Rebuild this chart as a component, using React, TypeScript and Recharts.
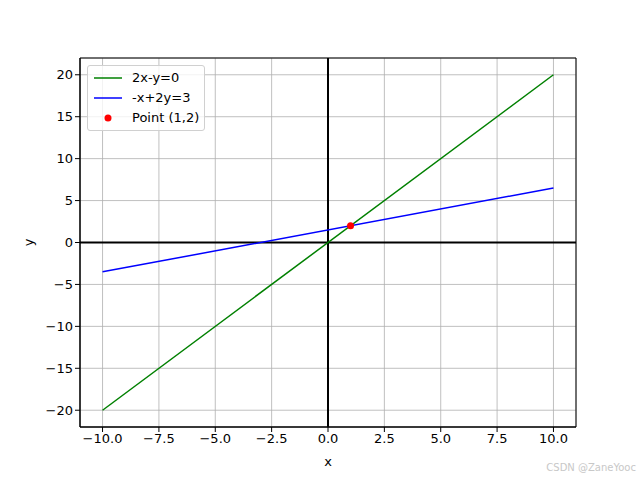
import {
  ComposedChart, Line, Scatter, XAxis, YAxis, CartesianGrid, ReferenceLine,
  ReferenceArea,
} from "recharts";

const X_RANGE = [-10, 10];
const LINE1_Y = [-20, 20]; // 2x - y = 0
const LINE2_Y = [-3.5, 6.5]; // -x + 2y = 3
const POINT = [{ x: 1, y: 2 }];

const X_TICKS = [-10, -7.5, -5, -2.5, 0, 2.5, 5, 7.5, 10];
const Y_TICKS = [-20, -15, -10, -5, 0, 5, 10, 15, 20];

const line1 = X_RANGE.map((x, i) => ({ x, y: LINE1_Y[i] }));
const line2 = X_RANGE.map((x, i) => ({ x, y: LINE2_Y[i] }));

const FONT = "DejaVu Sans, sans-serif";
const minus = (s: string) => s.replace("-", "\u2212");

const legendItems = [
  { label: "2x-y=0", color: "#008000", kind: "line" },
  { label: "-x+2y=3", color: "#0000ff", kind: "line" },
  { label: "Point (1,2)", color: "#ff0000", kind: "dot" },
];

function LegendBox() {
  return (
    <div
      style={{
        position: "absolute",
        left: 87,
        top: 65,
        border: "1px solid #d0d0d0",
        borderRadius: 3,
        background: "rgba(255,255,255,0.8)",
        padding: "2px 5px 2px 6px",
        fontFamily: FONT,
        fontSize: 13,
        lineHeight: "20px",
      }}
    >
      {legendItems.map((it) => (
        <div key={it.label} style={{ display: "flex", alignItems: "center" }}>
          <svg width={30} height={10} style={{ marginRight: 8 }}>
            {it.kind === "line" ? (
              <line x1={0} x2={28} y1={5} y2={5} stroke={it.color} strokeWidth={1.5} />
            ) : (
              <circle cx={14} cy={5} r={3.5} fill={it.color} />
            )}
          </svg>
          <span>{it.label}</span>
        </div>
      ))}
    </div>
  );
}

export default function App() {
  return (
    <div style={{ position: "absolute", left: 0, top: 0, width: 640, height: 480, background: "#fff" }}>
      <ComposedChart
        width={640}
        height={480}
        margin={{ top: 58, right: 64, bottom: 11, left: 30 }}
      >
        <CartesianGrid stroke="#b0b0b0" strokeWidth={0.8} />
        <XAxis
          type="number"
          dataKey="x"
          domain={[-11, 11]}
          ticks={X_TICKS}
          tickFormatter={(v: number) => minus(v.toFixed(1))}
          allowDataOverflow
          height={42}
          tickSize={5}
          tick={{ fill: "#000", fontSize: 13, fontFamily: FONT }}
          tickLine={{ stroke: "#000" }}
          axisLine={{ stroke: "#000" }}
          label={{ value: "x", position: "insideBottom", offset: 3, fill: "#000", fontSize: 13, fontFamily: FONT }}
        />
        <YAxis
          type="number"
          dataKey="y"
          domain={[-22, 22]}
          ticks={Y_TICKS}
          tickFormatter={(v: number) => minus(String(v))}
          allowDataOverflow
          width={50}
          tickSize={5}
          tick={{ fill: "#000", fontSize: 13, fontFamily: FONT }}
          tickLine={{ stroke: "#000" }}
          axisLine={{ stroke: "#000" }}
          label={(props: any) => {
            const vb = props.viewBox;
            const cx = vb.x - 2;
            const cy = vb.y + vb.height / 2;
            return (
              <text x={cx} y={cy} transform={`rotate(-90 ${cx} ${cy})`} textAnchor="middle" dominantBaseline="central" fontSize={13} fontFamily={FONT} fill="#000">
                y
              </text>
            );
          }}
        />
        <ReferenceArea x1={-11} x2={11} y1={-22} y2={22} fill="none" stroke="#000" strokeWidth={1} />
        <ReferenceLine x={0} stroke="#000" strokeWidth={2} />
        <ReferenceLine y={0} stroke="#000" strokeWidth={2} />
        <Line data={line1} dataKey="y" name="2x-y=0" stroke="#008000" strokeWidth={1.5} dot={false} isAnimationActive={false} />
        <Line data={line2} dataKey="y" name="-x+2y=3" stroke="#0000ff" strokeWidth={1.5} dot={false} isAnimationActive={false} />
        <Scatter data={POINT} dataKey="y" name="Point (1,2)" fill="#ff0000" isAnimationActive={false}
          shape={(p: any) => <circle cx={p.cx} cy={p.cy} r={3.5} fill="#ff0000" />} />
      </ComposedChart>
      <LegendBox />
      <div
        style={{
          position: "absolute",
          right: 4,
          bottom: 7,
          fontFamily: FONT,
          fontSize: 10,
          color: "#c8c8c8",
        }}
      >
        CSDN @ZaneYooc
      </div>
    </div>
  );
}
